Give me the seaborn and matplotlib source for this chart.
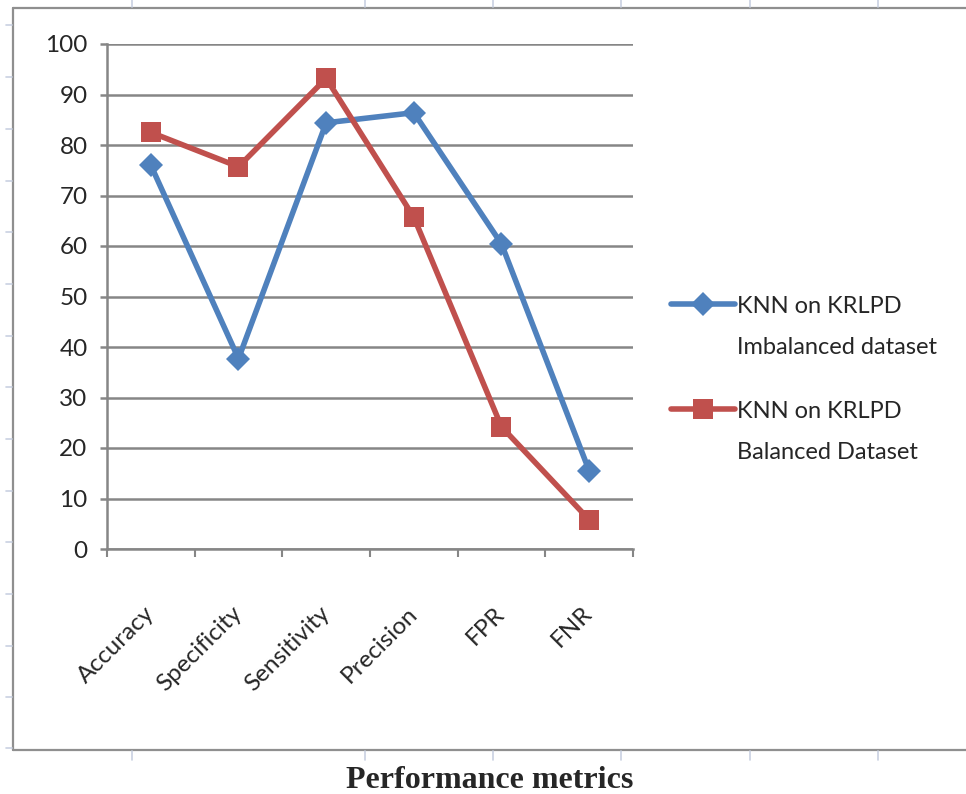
import matplotlib
matplotlib.use("Agg")
import matplotlib.pyplot as plt
from matplotlib.lines import Line2D
from matplotlib.ticker import FixedLocator, MultipleLocator
import pandas as pd
import seaborn as sns

# Metric names along the x axis
metrics = ["Accuracy", "Specificity", "Sensitivity", "Precision", "FPR", "FNR"]

# KNN results (%) on the KRLPD dataset
imbalanced = [76.0, 37.7, 84.4, 86.4, 60.4, 15.5]
balanced = [82.5, 75.7, 93.2, 65.7, 24.2, 5.8]

series_labels = ["KNN on KRLPD\nImbalanced dataset", "KNN on KRLPD\nBalanced Dataset"]
x_title = "Performance metrics"

df = pd.DataFrame({
    "Metric": metrics * 2,
    "Value": imbalanced + balanced,
    "Series": [series_labels[0]] * len(metrics) + [series_labels[1]] * len(metrics),
})

sns.set_style("white")
plt.rcParams["font.family"] = ["Lato", "DejaVu Sans"]

W, H = 966, 794
fig = plt.figure(figsize=(W / 100, H / 100), dpi=100)


def fx(px):
    return px / W


def fy(py):
    return 1 - py / H


ax = fig.add_axes([fx(107), fy(549), fx(633) - fx(107), fy(44) - fy(549)])

blue = "#4F81BD"
red = "#C0504D"
grid_gray = "#868686"

styles = {
    series_labels[0]: dict(color=blue, marker="D", markersize=12.5),
    series_labels[1]: dict(color=red, marker="s", markersize=15),
}
for name in series_labels:
    sub = df[df["Series"] == name]
    sns.lineplot(data=sub, x="Metric", y="Value", ax=ax, sort=False,
                 linewidth=4.0, markeredgewidth=0, label=name, **styles[name])

ax.set_xlim(-0.5, len(metrics) - 0.5)
ax.set_ylim(0, 100)
ax.yaxis.set_major_locator(MultipleLocator(10))
ax.grid(axis="y", color=grid_gray, linewidth=1.8)
ax.grid(axis="x", visible=False)
ax.set_axisbelow(True)

for side in ["top", "right"]:
    ax.spines[side].set_visible(False)
for side in ["left", "bottom"]:
    ax.spines[side].set_color(grid_gray)
    ax.spines[side].set_linewidth(1.8)

ax.xaxis.set_minor_locator(FixedLocator([i - 0.5 for i in range(len(metrics) + 1)]))
ax.tick_params(axis="x", which="minor", length=6, width=1.5, color=grid_gray, direction="out", bottom=True)
ax.tick_params(axis="x", which="major", length=0, pad=44, labelsize=17.5)
ax.tick_params(axis="y", which="major", length=5, width=1.8, color=grid_gray, direction="out",
               left=True, pad=9, labelsize=17.5)
plt.setp(ax.get_xticklabels(), rotation=45, ha="right", va="center", rotation_mode="anchor")
ax.set_xlabel("")
ax.set_ylabel("")

# Legend on the right, handle level with the first line of each label
ax.get_legend().remove()
handles, labels = ax.get_legend_handles_labels()
leg = fig.legend(handles, labels, loc="upper left",
                 bbox_to_anchor=(fx(671), fy(296)), bbox_transform=fig.transFigure,
                 frameon=False, fontsize=17, handlelength=2.7, handletextpad=0.1,
                 borderpad=0, borderaxespad=0, labelspacing=1.8, numpoints=1)
for t in leg.get_texts():
    t.set_linespacing(2.2)
for col in leg._legend_handle_box.get_children():
    for row in col.get_children():
        row.align = "top"

# Surrounding frame of the chart object
frame_gray = "#8F8F8F"
tick_blue = "#C9D1E2"
fig.add_artist(Line2D([fx(13), fx(13)], [fy(8), fy(750)], color=frame_gray, lw=1.6))
fig.add_artist(Line2D([fx(13), fx(966)], [fy(8), fy(8)], color=frame_gray, lw=1.6))
fig.add_artist(Line2D([fx(13), fx(966)], [fy(750), fy(750)], color=frame_gray, lw=1.6))
for xp in [132, 365, 493, 621, 750, 878]:
    fig.add_artist(Line2D([fx(xp), fx(xp)], [fy(0), fy(7)], color=tick_blue, lw=1.2))
    fig.add_artist(Line2D([fx(xp), fx(xp)], [fy(751), fy(760)], color=tick_blue, lw=1.2))
for yp in [25, 77, 129, 181, 232, 284, 336, 387, 439, 491, 542, 594, 646, 697, 748]:
    fig.add_artist(Line2D([fx(6), fx(12)], [fy(yp), fy(yp)], color=tick_blue, lw=1.2))

fig.text(fx(490), fy(788), x_title, ha="center", va="baseline",
         fontsize=23, fontweight="bold", family=["Liberation Serif", "DejaVu Serif"])

fig.savefig("out.png", dpi=100, facecolor="white")
